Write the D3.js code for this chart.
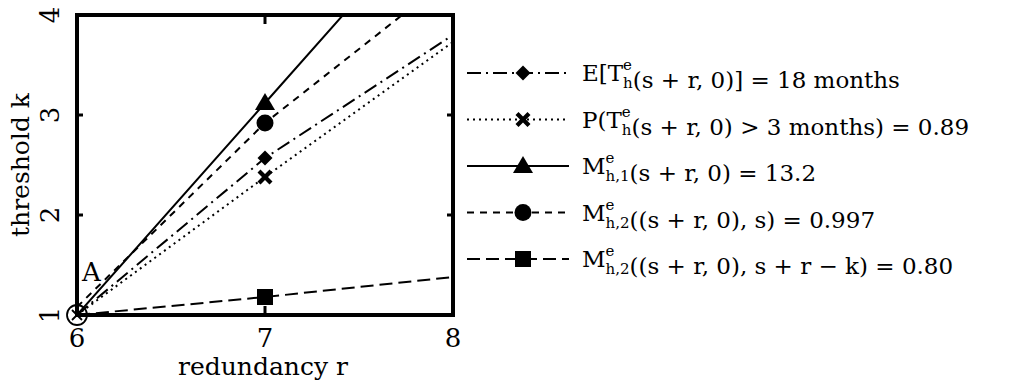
<!DOCTYPE html>
<html>
<head>
<meta charset="utf-8">
<script src="https://cdn.jsdelivr.net/npm/d3@7"></script>
<style>
  html, body { margin: 0; padding: 0; background: #fff; }
  svg { display: block; }
</style>
</head>
<body>
<svg id="chart" width="1022" height="383"></svg>
<script>
// ---------- data ----------
const rValues = [6, 7, 8];
const kExpected = [1, 2.57, 3.8];   // E[T] = 18 months
const kProb = [1, 2.38, 3.73];      // P(T > 3 months) = 0.89
const kM1 = [1, 3.12, 5.24];        // M_h,1 = 13.2
const kM2 = [1.08, 2.92, 4.4];      // M_h,2 (.., s) = 0.997
const kM2b = [1, 1.18, 1.38];       // M_h,2 (.., s+r-k) = 0.80
const markerR = 7;
const xTicks = [6, 7, 8];
const yTicks = [1, 2, 3, 4];

// legend labels: plain strings and stacked scripts {sup, sub}
const legendLabels = [
  ["E[T", { sup: "e", sub: "h" }, "(s + r, 0)] = 18 months"],
  ["P(T", { sup: "e", sub: "h" }, "(s + r, 0) > 3 months) = 0.89"],
  ["M", { sup: "e", sub: "h,1" }, "(s + r, 0) = 13.2"],
  ["M", { sup: "e", sub: "h,2" }, "((s + r, 0), s) = 0.997"],
  ["M", { sup: "e", sub: "h,2" }, "((s + r, 0), s + r − k) = 0.80"]
];

const series = [
  { k: kExpected, dash: "14,5,2,5", symbol: "diamond" },
  { k: kProb, dash: "2,4", symbol: "cross" },
  { k: kM1, dash: null, symbol: "triangle" },
  { k: kM2, dash: "7,6", symbol: "circle" },
  { k: kM2b, dash: "13,6", symbol: "square" }
];

const FONT = "DejaVu Serif";

// ---------- layout ----------
const svg = d3.select("#chart").style("font-family", FONT);
const margin = { left: 77, top: 15, right: 569, bottom: 68 };
const W = 1022, H = 383;
const innerW = W - margin.left - margin.right;
const innerH = H - margin.top - margin.bottom;

const x = d3.scaleLinear().domain([6, 8]).range([0, innerW]);
const y = d3.scaleLinear().domain([1, 4]).range([innerH, 0]);

const root = svg.append("g").attr("transform", `translate(${margin.left},${margin.top})`);

svg.append("defs").append("clipPath").attr("id", "plotClip")
  .append("rect").attr("x", 0).attr("y", 0).attr("width", innerW).attr("height", innerH);

function symbolPath(type) {
  if (type === "diamond") return "M0,-7.5L7.5,0L0,7.5L-7.5,0Z";
  if (type === "triangle") return "M0,-10L10,7L-10,7Z";
  if (type === "square") return "M-8,-8H8V8H-8Z";
  if (type === "cross") return "M-7.5,-4.5L-4.5,-7.5L0,-3L4.5,-7.5L7.5,-4.5L3,0L7.5,4.5L4.5,7.5L0,3L-4.5,7.5L-7.5,4.5L-3,0Z";
  return null;
}
function drawSymbol(g, type, cx, cy) {
  if (type === "circle") {
    g.append("circle").attr("cx", cx).attr("cy", cy).attr("r", 8.5).attr("fill", "#000");
  } else {
    g.append("path").attr("d", symbolPath(type))
      .attr("transform", `translate(${cx},${cy})`).attr("fill", "#000");
  }
}

// ---------- lines ----------
const line = d3.line().x((d, i) => x(rValues[i])).y(d => y(d));
const lineG = root.append("g").attr("clip-path", "url(#plotClip)");
series.forEach(s => {
  lineG.append("path").datum(s.k)
    .attr("d", line)
    .attr("fill", "none").attr("stroke", "#000").attr("stroke-width", 2)
    .attr("stroke-dasharray", s.dash);
});

// markers at r = 7
const idx = rValues.indexOf(markerR);
const markG = root.append("g");
series.forEach(s => drawSymbol(markG, s.symbol, x(markerR), y(s.k[idx])));

// point A (circle with cross)
root.append("circle").attr("cx", x(6)).attr("cy", y(1)).attr("r", 10)
  .attr("fill", "none").attr("stroke", "#000").attr("stroke-width", 1.8);
root.append("path")
  .attr("d", `M${x(6) - 5},${y(1) - 5}L${x(6) + 5},${y(1) + 5}M${x(6) - 5},${y(1) + 5}L${x(6) + 5},${y(1) - 5}`)
  .attr("stroke", "#000").attr("stroke-width", 1.8);
root.append("text").attr("x", x(6) + 5).attr("y", y(1) - 34)
  .style("font-family", FONT).attr("font-size", 26).text("A");

// ---------- frame & ticks ----------
root.append("rect").attr("x", 0).attr("y", 0).attr("width", innerW).attr("height", innerH)
  .attr("fill", "none").attr("stroke", "#000").attr("stroke-width", 4);

const tickG = root.append("g").attr("stroke", "#000").attr("stroke-width", 3);
yTicks.slice(1, -1).forEach(t => {
  tickG.append("line").attr("x1", 0).attr("x2", 6).attr("y1", y(t)).attr("y2", y(t));
  tickG.append("line").attr("x1", innerW - 6).attr("x2", innerW).attr("y1", y(t)).attr("y2", y(t));
});
xTicks.slice(1, -1).forEach(t => {
  tickG.append("line").attr("x1", x(t)).attr("x2", x(t)).attr("y1", 0).attr("y2", 9);
  tickG.append("line").attr("x1", x(t)).attr("x2", x(t)).attr("y1", innerH - 9).attr("y2", innerH);
});

// tick labels
root.selectAll("text.xt").data(xTicks).join("text").attr("class", "xt")
  .attr("x", d => x(d)).attr("y", innerH + 32)
  .style("font-family", FONT).attr("text-anchor", "middle").attr("font-size", 26).text(d => d);

root.selectAll("text.yt").data(yTicks).join("text").attr("class", "yt")
  .attr("transform", d => `translate(-18,${y(d)}) rotate(-90)`)
  .style("font-family", FONT).attr("text-anchor", "middle").attr("font-size", 26).text(d => d);

// axis titles
root.append("text").attr("x", x(7) - 2).attr("y", innerH + 60)
  .style("font-family", FONT).attr("text-anchor", "middle").attr("font-size", 25).text("redundancy r");
root.append("text").attr("transform", `translate(-48,${innerH / 2}) rotate(-90)`)
  .style("font-family", FONT).attr("text-anchor", "middle").attr("font-size", 25).text("threshold k");

// ---------- legend ----------
const legX0 = 467, legX1 = 569, legMark = 523, legText = 582;
const legY0 = 73, legStep = 46.5;
const legG = svg.append("g");
series.forEach((s, i) => {
  const ly = legY0 + i * legStep;
  legG.append("line").attr("x1", legX0).attr("x2", legX1).attr("y1", ly).attr("y2", ly)
    .attr("stroke", "#000").attr("stroke-width", 2).attr("stroke-dasharray", s.dash);
  drawSymbol(legG, s.symbol, legMark, ly);

  const txt = legG.append("text").attr("x", legText).attr("y", ly + 8)
    .style("font-family", FONT).attr("font-size", 23);
  legendLabels[i].forEach(part => {
    if (typeof part === "string") {
      txt.append("tspan").text(part);
    } else {
      const sup = txt.append("tspan").attr("font-size", 15).attr("dy", -11).text(part.sup);
      const supW = sup.node().getComputedTextLength();
      const sub = txt.append("tspan").attr("font-size", 15).attr("dx", -supW).attr("dy", 18).text(part.sub);
      const subW = sub.node().getComputedTextLength();
      const extra = Math.max(0, supW - subW);
      // back to baseline
      txt.append("tspan").attr("dx", extra + 1).attr("dy", -7).text("");
    }
  });
});
</script>
</body>
</html>
